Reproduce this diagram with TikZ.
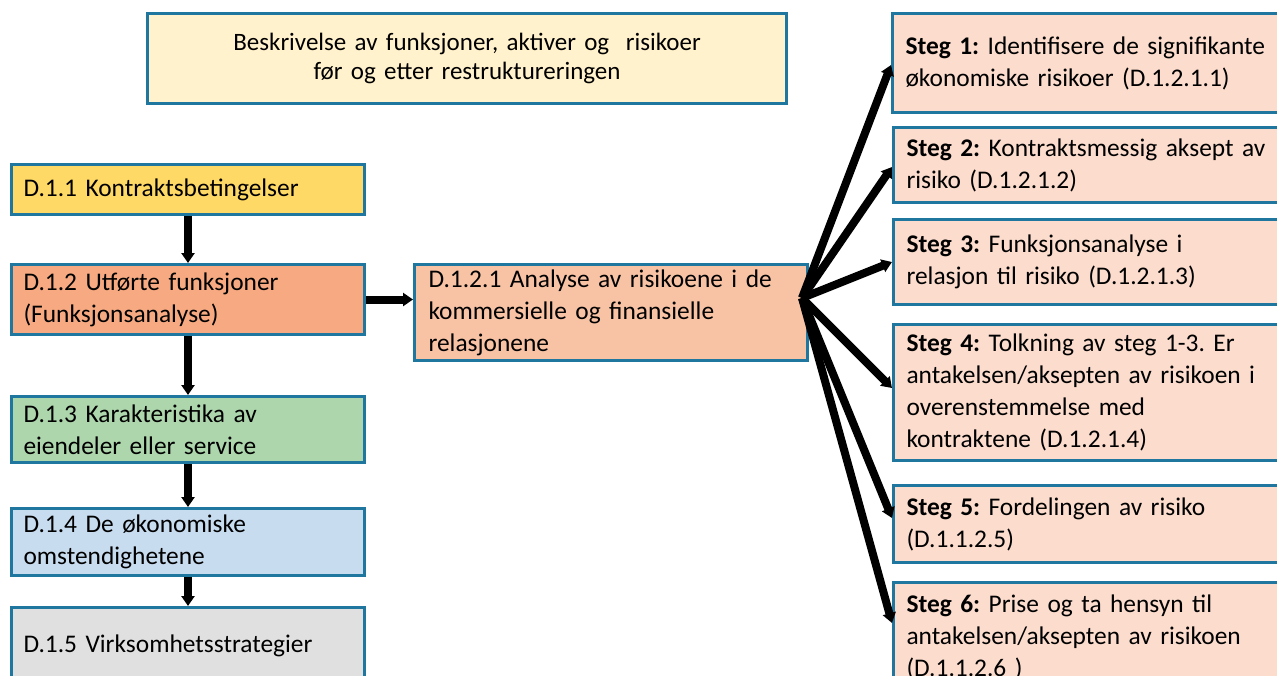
\documentclass[tikz,border=0pt]{standalone}
\usepackage{fontspec}
\setmainfont{Carlito}
\frenchspacing
\usetikzlibrary{arrows.meta,calc}
\definecolor{bord}{RGB}{31,119,160}
\definecolor{ftop}{RGB}{255,242,204}
\definecolor{fa}{RGB}{255,217,102}
\definecolor{fb}{RGB}{247,170,130}
\definecolor{fc}{RGB}{173,214,172}
\definecolor{fd}{RGB}{200,220,240}
\definecolor{fe}{RGB}{224,224,224}
\definecolor{fmid}{RGB}{248,195,165}
\definecolor{fstep}{RGB}{251,220,205}
\begin{document}
\begin{tikzpicture}[x=1pt,y=-1pt,
  box/.style={draw=bord, line width=3pt, anchor=north west, inner xsep=12pt, inner ysep=0pt,
    align=left, font=\fontsize{25.4}{32}\selectfont\frenchspacing},
  conn/.style={line width=8pt, -{Triangle[width=13pt,length=10pt]}}]
\useasboundingbox (0,0) rectangle (1277,675);

\node[box, fill=ftop, align=center, font=\fontsize{25}{29}\selectfont, text width=615pt, minimum width=639pt, minimum height=90pt] (top) at (146,12)
  {Beskrivelse av funksjoner, aktiver og\ \ risikoer\\før og etter restruktureringen};

\node[box, fill=fa, text width=329pt, minimum width=353pt, minimum height=50pt] (d11) at (10,163) {D.1.1 Kontraktsbetingelser};
\node[box, fill=fb, text width=329pt, minimum width=353pt, minimum height=70pt] (d12) at (10,263) {D.1.2 Utførte funksjoner\\(Funksjonsanalyse)};
\node[box, fill=fc, text width=329pt, minimum width=353pt, minimum height=66pt] (d13) at (10,395) {D.1.3 Karakteristika av\\eiendeler eller service};
\node[box, fill=fd, text width=329pt, minimum width=353pt, minimum height=67pt] (d14) at (10,507) {D.1.4 De økonomiske\\omstendighetene};
\node[box, fill=fe, text width=329pt, minimum width=353pt, minimum height=76pt] (d15) at (10,606) {D.1.5 Virksomhetsstrategier};

\node[box, fill=fmid, inner xsep=14pt, text width=365pt, minimum width=393pt, minimum height=96pt] (mid) at (413,263)
  {D.1.2.1 Analyse av risikoene i de\\kommersielle og finansielle\\relasjonene};

\begin{scope}[every node/.append style={box, fill=fstep, inner xsep=13pt, text width=374pt, minimum width=400pt}]
\node[minimum height=99pt] (s1) at (891,12) {\textbf{Steg 1:} Identifisere de signifikante\\økonomiske risikoer (D.1.2.1.1)};
\node[minimum height=75pt] (s2) at (892,126) {\textbf{Steg 2:} Kontraktsmessig aksept av\\risiko (D.1.2.1.2)};
\node[minimum height=85pt] (s3) at (892,218) {\textbf{Steg 3:} Funksjonsanalyse i\\relasjon til risiko (D.1.2.1.3)};
\node[minimum height=136pt] (s4) at (892,323) {\textbf{Steg 4:} Tolkning av steg 1-3. Er\\antakelsen/aksepten av risikoen i\\overenstemmelse med\\kontraktene (D.1.2.1.4)};
\node[minimum height=77pt] (s5) at (892,484) {\textbf{Steg 5:} Fordelingen av risiko\\(D.1.1.2.5)};
\node[minimum height=110pt] (s6) at (892,581) {\textbf{Steg 6:} Prise og ta hensyn til\\antakelsen/aksepten av risikoen\\(D.1.1.2.6 )};
\end{scope}

\draw[conn] (d11.south) -- (d12.north);
\draw[conn] (d12.south) -- (d13.north);
\draw[conn] (d13.south) -- (d14.north);
\draw[conn] (d14.south) -- (d15.north);
\draw[conn] (d12.east) -- (d12.east -| mid.west);

\coordinate (fan) at (802,298);
\draw[conn] (fan) -- ($(s1.north west)+(0,53)$);
\draw[conn] (fan) -- ($(s2.north west)+(0,41)$);
\draw[conn] (fan) -- ($(s3.north west)+(0,44)$);
\draw[conn] (fan) -- ($(s4.north west)+(0,65)$);
\draw[conn] (fan) -- ($(s5.north west)+(0,34)$);
\draw[conn] (fan) -- ($(s6.north west)+(0,42)$);
\end{tikzpicture}
\end{document}
